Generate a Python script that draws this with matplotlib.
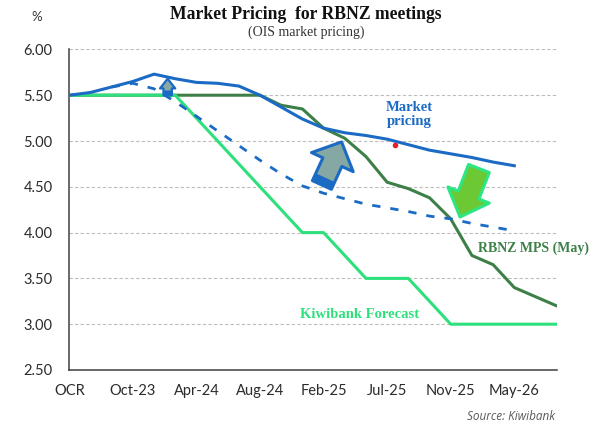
import matplotlib
matplotlib.use('Agg')
import matplotlib.pyplot as plt
from matplotlib.patches import FancyArrowPatch

# meeting index 0..23, labelled every third meeting
tick_labels = ['OCR', 'Oct-23', 'Apr-24', 'Aug-24', 'Feb-25', 'Jul-25', 'Nov-25', 'May-26']
n_meetings = 24

# current market pricing (solid blue)
market = [5.50, 5.53, 5.59, 5.65, 5.73, 5.68, 5.64, 5.63, 5.60, 5.50, 5.37,
          5.24, 5.14, 5.09, 5.06, 5.02, 4.96, 4.90, 4.86, 4.82, 4.77, 4.73]
# earlier market pricing (dashed blue), starts at meeting 2
prev_start = 2
prev_market = [5.59, 5.63, 5.57, 5.43, 5.27, 5.11, 4.95, 4.79, 4.64, 4.51,
               4.43, 4.37, 4.31, 4.27, 4.23, 4.18, 4.15, 4.10, 4.06, 4.02]
# RBNZ MPS (May)
rbnz = [5.50, 5.50, 5.50, 5.50, 5.50, 5.50, 5.50, 5.50, 5.50, 5.50, 5.39, 5.35,
        5.14, 5.03, 4.83, 4.55, 4.48, 4.38, 4.15, 3.75, 3.65, 3.40, 3.30, 3.20]
# Kiwibank forecast
kiwi = [5.50, 5.50, 5.50, 5.50, 5.50, 5.50, 5.25, 5.00, 4.75, 4.50, 4.25, 4.00,
        4.00, 3.75, 3.50, 3.50, 3.50, 3.25, 3.00, 3.00, 3.00, 3.00, 3.00, 3.00]

blue = '#1B6BC4'
dark_green = '#3C8048'
bright_green = '#2EE07C'

fig = plt.figure(figsize=(6, 4.26), dpi=100)
ax = fig.add_axes([0.1155, 0.1315, 0.8123, 0.7525])

ax.plot(range(len(rbnz)), rbnz, color=dark_green, lw=2.2, zorder=3)
ax.plot(range(len(kiwi)), kiwi, color=bright_green, lw=2.2, zorder=4)
ax.plot(range(prev_start, prev_start + len(prev_market)), prev_market,
        color=blue, lw=2, dashes=(3.0, 3.6), zorder=5)
ax.plot(range(len(market)), market, color=blue, lw=2.2, zorder=6)

# axes styling
ax.set_xlim(0, n_meetings - 1)
ax.set_ylim(2.5, 6.0)
ax.set_yticks([2.5, 3.0, 3.5, 4.0, 4.5, 5.0, 5.5, 6.0])
ax.set_yticklabels([f'{v:.2f}' for v in ax.get_yticks()])
ax.set_xticks(range(0, n_meetings, 3))
ax.set_xticklabels(tick_labels)
for lab in ax.get_xticklabels() + ax.get_yticklabels():
    lab.set_family('Lato')
    lab.set_fontsize(10.5)
    lab.set_color('#2b2b2b')
ax.tick_params(axis='both', length=0)
ax.tick_params(axis='y', pad=12)
ax.tick_params(axis='x', pad=10)
for side in ['top', 'right']:
    ax.spines[side].set_visible(False)
for side in ['left', 'bottom']:
    ax.spines[side].set_color('#404040')
    ax.spines[side].set_linewidth(1.1)
ax.yaxis.grid(True, color='#BDBDBD', lw=0.8, ls=(0, (3, 2)))
ax.set_axisbelow(True)


def arrow(tail, tip, face, edge, tail_w, head_w, head_l, lw):
    a = FancyArrowPatch(tail, tip, mutation_scale=1, shrinkA=0, shrinkB=0,
                        arrowstyle=f'simple,head_length={head_l},head_width={head_w},tail_width={tail_w}',
                        facecolor=face, edgecolor=edge, lw=lw, zorder=7)
    ax.add_patch(a)


def band(tail, end, width, color):
    ax.plot([tail[0], end[0]], [tail[1], end[1]], color=color, lw=width,
            solid_capstyle='butt', zorder=8)


# small arrow near Oct-23
arrow((4.64, 5.50), (4.64, 5.68), '#88A9A6', blue, 6, 11, 7, 1.6)
band((4.64, 5.50), (4.64, 5.555), 6.5, blue)
# large arrow: pricing moved up
arrow((11.92, 4.52), (12.85, 4.99), '#86A8A4', blue, 15, 33, 16, 2.2)
band((11.92, 4.52), (12.08, 4.60), 16, blue)
# green arrow: pricing moving down
arrow((19.33, 4.70), (18.44, 4.17), '#6CC833', '#2EE583', 16, 32, 17, 2.2)

# red marker
ax.plot([15.38], [4.956], 'o', color='#E8202A', ms=3, zorder=9)

serif = 'Liberation Serif'
ax.text(16.05, 5.285, 'Market\npricing', color=blue, fontsize=10.5, family=serif,
        fontweight='bold', ha='center', va='center', linespacing=1.1)
ax.text(19.3, 3.83, 'RBNZ MPS (May)', color=dark_green, fontsize=10, family=serif,
        fontweight='bold', ha='left', va='center', clip_on=False)
ax.text(13.7, 3.11, 'Kiwibank Forecast', color=bright_green, fontsize=10.5,
        family=serif, fontweight='bold', ha='center', va='center')

fig.text(0.51, 0.967, 'Market Pricing  for RBNZ meetings', fontsize=12.7,
         family=serif, fontweight='bold', ha='center', va='center', color='#111111')
fig.text(0.51, 0.925, '(OIS market pricing)', fontsize=10, family=serif,
         ha='center', va='center', color='#333333')
fig.text(0.061, 0.96, '%', fontsize=9.5, family='Lato', ha='center',
         va='center', color='#333333')
fig.text(0.925, 0.022, 'Source: Kiwibank', fontsize=8.5, family='Open Sans',
         style='italic', ha='right', va='center', color='#595959')

fig.savefig('out.png', dpi=100)
